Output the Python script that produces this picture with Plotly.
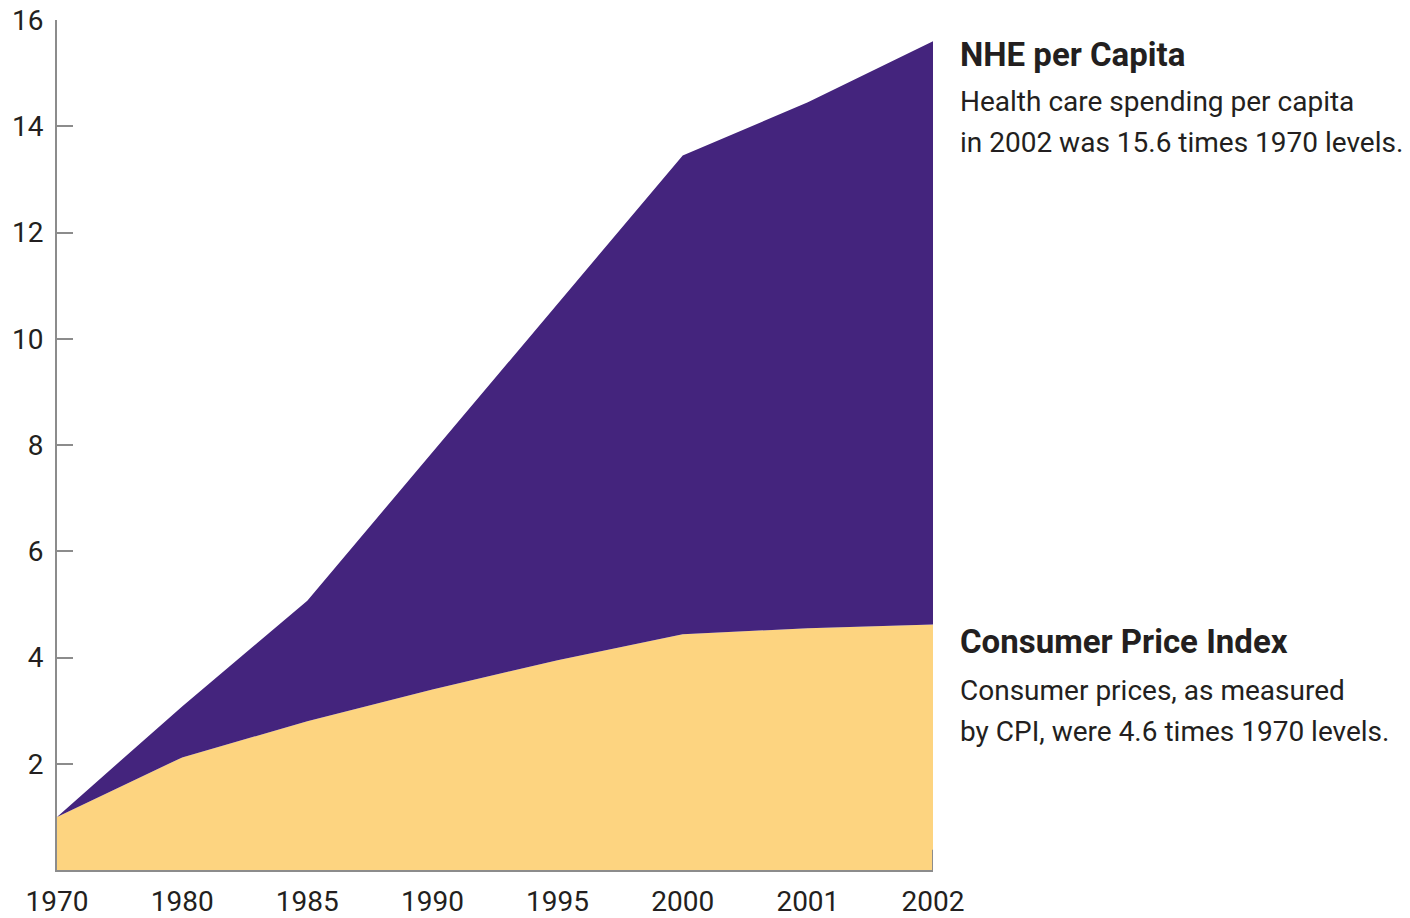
import plotly.graph_objects as go

# Index values (1970 = 1.0)
years = ["1970", "1980", "1985", "1990", "1995", "2000", "2001", "2002"]
nhe_per_capita = [1.0, 3.08, 5.07, 7.86, 10.64, 13.45, 14.45, 15.6]
cpi = [1.0, 2.12, 2.8, 3.4, 3.95, 4.44, 4.55, 4.62]
y_ticks = [2, 4, 6, 8, 10, 12, 14, 16]

PURPLE = "#44247d"
YELLOW = "#fdd480"
AXIS_GREY = "#8c8c8c"
TEXT = "#231f20"
FONT = "Roboto, 'Liberation Sans Narrow', sans-serif"

pos = list(range(len(years)))

fig = go.Figure()
fig.add_trace(go.Scatter(
    x=pos, y=cpi, mode="lines", line=dict(width=0, color=YELLOW),
    fill="tozeroy", fillcolor=YELLOW, hoverinfo="skip", showlegend=False,
))
fig.add_trace(go.Scatter(
    x=pos, y=nhe_per_capita, mode="lines", line=dict(width=0, color=PURPLE),
    fill="tonexty", fillcolor=PURPLE, hoverinfo="skip", showlegend=False,
))

# small shadow edge at the right end of the base
fig.add_shape(type="line", xref="x", yref="y", x0=7, x1=7, y0=0, y1=0.38,
              line=dict(color=AXIS_GREY, width=2))

W, H = 1410, 918
ML, MR, MT, MB = 57, 477, 20, 48
plot_h = H - MT - MB
plot_w = W - ML - MR


def py(px):
    return (H - MB - px) / plot_h


def pxx(px):
    return (px - ML) / plot_w


labels = [
    ("<b>NHE per Capita</b>", 54, 33),
    ("Health care spending per capita", 102, 28),
    ("in 2002 was 15.6 times 1970 levels.", 142, 28),
    ("<b>Consumer Price Index</b>", 641, 33),
    ("Consumer prices, as measured", 690, 28),
    ("by CPI, were 4.6 times 1970 levels.", 731, 28),
]
for text, ypx, size in labels:
    fig.add_annotation(
        text=text, xref="paper", yref="paper", x=pxx(958), y=py(ypx),
        xanchor="left", yanchor="middle", showarrow=False, align="left",
        font=dict(family=FONT, size=size, color=TEXT),
    )

fig.update_layout(
    width=W, height=H,
    margin=dict(l=ML, r=MR, t=MT, b=MB, pad=0),
    paper_bgcolor="white", plot_bgcolor="white",
    font=dict(family=FONT, color=TEXT),
    xaxis=dict(
        range=[0, 7], tickvals=pos, ticktext=years,
        showgrid=False, zeroline=False, showline=True,
        linecolor=AXIS_GREY, linewidth=2, ticks="",
        tickfont=dict(size=28, family=FONT, color=TEXT),
        ticklabelstandoff=5, automargin=False,
    ),
    yaxis=dict(
        range=[0, 16], tickvals=y_ticks, ticktext=[str(v) for v in y_ticks],
        showgrid=False, zeroline=False, showline=True,
        linecolor=AXIS_GREY, linewidth=2,
        ticks="inside", ticklen=16, tickwidth=2, tickcolor=AXIS_GREY,
        tickfont=dict(size=28, family=FONT, color=TEXT),
        ticklabelstandoff=6, automargin=False,
    ),
)

fig.write_html("out.html")
